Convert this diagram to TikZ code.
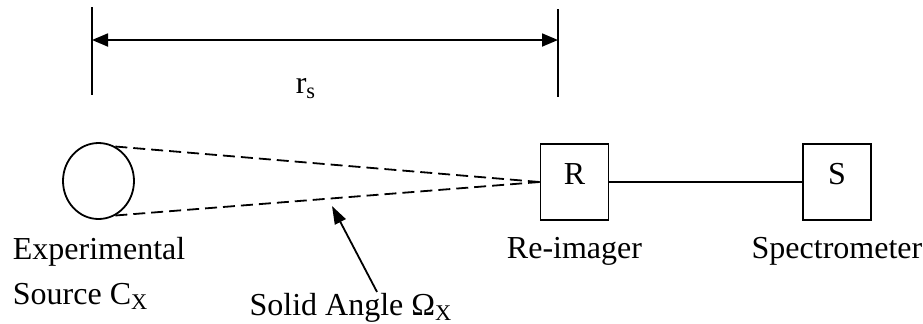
\documentclass[tikz,border=0pt]{standalone}
\usepackage{fontspec}
\setmainfont{Liberation Serif}
\usetikzlibrary{positioning,arrows.meta,shapes.geometric}

\begin{document}
\begin{tikzpicture}[
  x=0.5pt, y=-0.5pt,
  font=\fontsize{16}{22.5}\selectfont,
  line width=0.9pt,
  box/.style={draw, minimum width=34pt, minimum height=38pt, inner sep=0pt,
              text depth=8pt},
  srcball/.style={ellipse, draw, minimum width=35.5pt, minimum height=38pt,
                  inner sep=0pt},
  lbl/.style={inner sep=0pt},
  ray/.style={dash pattern=on 6pt off 3pt},
  dim/.style={{Triangle[length=8pt,width=6.5pt]}-{Triangle[length=8pt,width=6.5pt]}},
  ptr/.style={-{Triangle[length=9pt,width=6pt]}},
  node distance=8pt]
\useasboundingbox (0,0) rectangle (923,323);

% source, re-imager, spectrometer
\node[srcball] (src) at (98.5,181) {};
\node[box] (reim) at (574.5,182) {R};
\node[box] (spec) at (837,182) {S};

% labels
\node[lbl, align=left, anchor=base west] (srclbl) at (12,304)
  {Experimental\\Source C\textsubscript{X}};
\node[lbl, below=of reim] (reimlbl) {Re-imager};
\node[lbl, below=of spec] (speclbl) {Spectrometer};
\node[lbl, anchor=base] (angle) at (351,315) {Solid Angle Ω\textsubscript{X}};
\coordinate (angtip) at (332,206);

% distance r_s
\coordinate (dimLt) at (92,7);
\coordinate (dimLb) at (92,95);
\coordinate (dimRt) at (558,9);
\coordinate (dimRb) at (558,97);
\coordinate (dimL) at (92,40);
\coordinate (dimR) at (558,40);
\node[lbl, anchor=base] (rs) at (306,93) {r\textsubscript{s}};

% lines
\draw (dimLt) -- (dimLb);
\draw (dimRt) -- (dimRb);
\draw[dim] (dimL) -- (dimR);
\draw[ray] (src.64) -- (reim.west);
\draw[ray] (src.-64) -- (reim.west);
\draw (reim) -- (spec);
\draw[ptr] ([xshift=13pt]angle.north) -- (angtip);
\end{tikzpicture}
\end{document}
